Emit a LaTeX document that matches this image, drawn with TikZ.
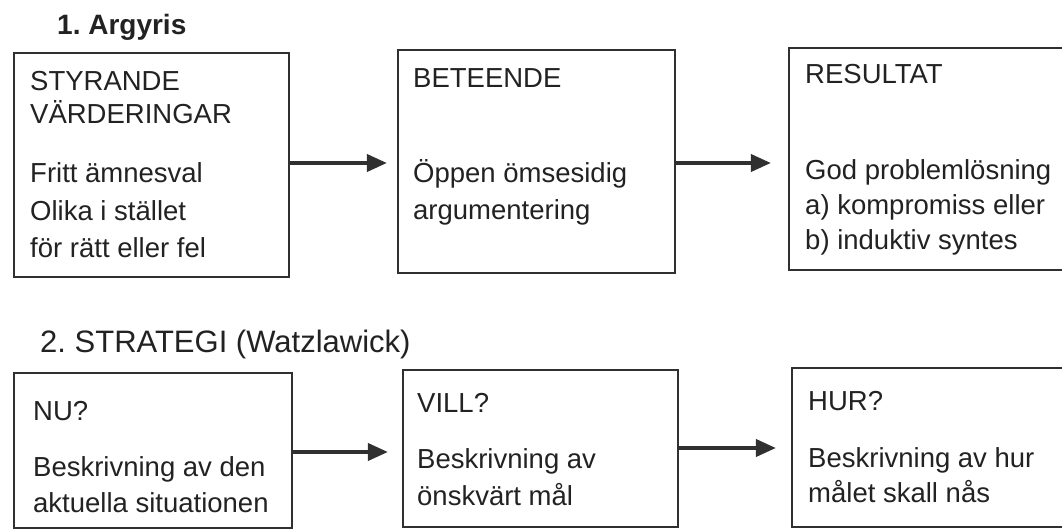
\documentclass[tikz,border=0pt]{standalone}
\usepackage{fontspec}
\setmainfont{Liberation Sans}
\usetikzlibrary{arrows.meta}
\definecolor{ink}{HTML}{222222}
\definecolor{linec}{HTML}{303030}
\begin{document}
\frenchspacing
\begin{tikzpicture}[x=1pt,y=-1pt,
  box/.style={draw=linec, line width=2.2pt, fill=none, inner sep=0pt},
  txt/.style={anchor=base west, inner sep=0pt, text=ink, font=\fontsize{27.5}{32}\selectfont},
  ttl/.style={anchor=base west, inner sep=0pt, text=ink},
  flow/.style={draw=linec, line width=3.8pt, -{Triangle[length=20pt,width=17pt]}}
]
\clip (0,0) rectangle (1062,529);
\fill[white] (0,0) rectangle (1062,529);

% titles
\node[ttl, font=\bfseries\fontsize{28}{32}\selectfont] (t1) at (57,35) {1. Argyris};
\node[ttl, font=\fontsize{31}{34}\selectfont] (t2) at (40,352) {2. STRATEGI (Watzlawick)};

% row 1 boxes
\node[box, minimum width=275pt, minimum height=224pt] (b1) at (151.5,165) {};
\node[box, minimum width=277pt, minimum height=223pt] (b2) at (536.5,161.5) {};
\node[box, minimum width=300pt, minimum height=222pt] (b3) at (939,159) {};

% row 2 boxes
\node[box, minimum width=278pt, minimum height=155pt] (b4) at (153,450.5) {};
\node[box, minimum width=275pt, minimum height=157pt] (b5) at (540.5,448.5) {};
\node[box, minimum width=300pt, minimum height=159pt] (b6) at (942,447.5) {};

% row 1 texts
\node[txt] (s1) at (30,91) {STYRANDE};
\node[txt] (s2) at (30,124) {VÄRDERINGAR};
\node[txt] (s3) at (30,183) {Fritt ämnesval};
\node[txt] (s4) at (30,221) {Olika i stället};
\node[txt] (s5) at (30,258) {för rätt eller fel};

\node[txt] (e1) at (413,88) {BETEENDE};
\node[txt] (e2) at (413,183) {Öppen ömsesidig};
\node[txt] (e3) at (413,220) {argumentering};

\node[txt] (r1) at (805,84) {RESULTAT};
\node[txt] (r2) at (805,180) {God problemlösning};
\node[txt] (r3) at (805,215) {a) kompromiss eller};
\node[txt] (r4) at (805,250) {b) induktiv syntes};

% row 2 texts
\node[txt] (n1) at (33,420) {NU?};
\node[txt] (n2) at (33,476) {Beskrivning av den};
\node[txt] (n3) at (33,512) {aktuella situationen};

\node[txt] (v1) at (417,412) {VILL?};
\node[txt] (v2) at (417,468) {Beskrivning av};
\node[txt] (v3) at (417,505) {önskvärt mål};

\node[txt] (h1) at (808,410) {HUR?};
\node[txt] (h2) at (808,467) {Beskrivning av hur};
\node[txt] (h3) at (808,502) {målet skall nås};

% arrows
\draw[flow, shorten >=10pt] (b1.east |- 0,163) -- (b2.west |- 0,163);
\draw[flow, shorten >=17pt] (b2.east |- 0,163) -- (b3.west |- 0,163);
\draw[flow, shorten >=14pt] (b4.east |- 0,452) -- (b5.west |- 0,452);
\draw[flow, shorten >=15pt] (b5.east |- 0,448) -- (b6.west |- 0,448);
\end{tikzpicture}
\end{document}
